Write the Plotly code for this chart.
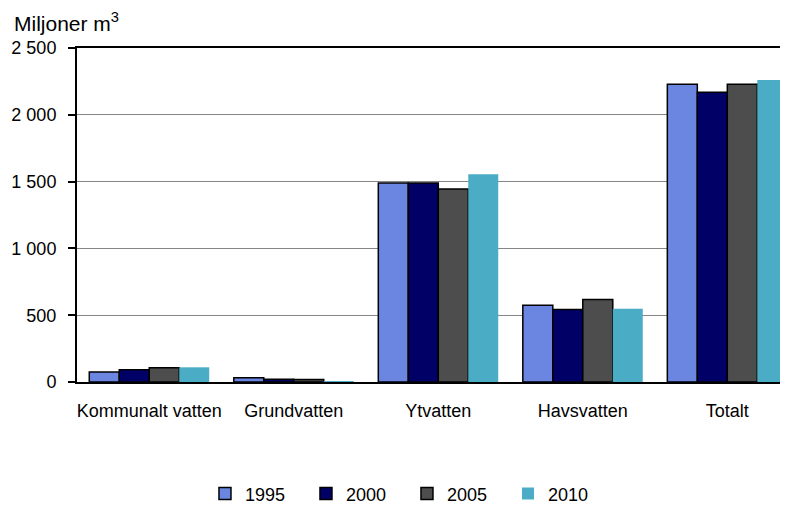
import plotly.graph_objects as go

# Vattenanvändning per källa, miljoner m3
kategorier = ['Kommunalt vatten', 'Grundvatten', 'Ytvatten', 'Havsvatten', 'Totalt']
ar = ['1995', '2000', '2005', '2010']
v1995 = [75, 32, 1490, 575, 2228]
v2000 = [92, 20, 1490, 543, 2168]
v2005 = [107, 18, 1445, 617, 2228]
v2010 = [110, 5, 1555, 548, 2260]
y_ticks = [0, 500, 1000, 1500, 2000, 2500]
y_ticktext = ['0', '500', '1 000', '1 500', '2 000', '2 500']

farger = ['#6A86E0', '#000066', '#4D4D4D', '#4BACC6']
kantbredd = [1.5, 1.5, 1.5, 0]

fig = go.Figure()
for namn, varden, farg, kant in zip(ar, [v1995, v2000, v2005, v2010], farger, kantbredd):
    fig.add_trace(go.Bar(
        x=kategorier, y=varden, name=namn,
        marker=dict(color=farg, line=dict(color='black', width=kant)),
    ))

# sidan har 8px marginal runt diagrammet, därför 780x499
fig.update_layout(
    width=780, height=499,
    barmode='group', bargap=0.17, bargroupgap=0,
    plot_bgcolor='white', paper_bgcolor='white',
    font=dict(family='Liberation Sans, Arial', size=18, color='black'),
    margin=dict(l=69, r=0, t=40, b=125, autoexpand=False),
    showlegend=True,
    legend=dict(orientation='h', x=0.18, xanchor='left', y=-0.335, yanchor='middle',
                entrywidth=56, itemwidth=30, font=dict(size=18)),
    annotations=[dict(text='Miljoner m<sup>3</sup>', x=-65 / 711, y=1 + 26 / 334,
                      xref='x domain', yref='y domain',
                      showarrow=False, xanchor='left', yanchor='middle', font=dict(size=21))],
)

fig.update_xaxes(range=[-0.5, 4.42], showline=True, linecolor='black', linewidth=1.5,
                 mirror=True, ticks='', showgrid=False, ticklabelstandoff=12)
fig.update_yaxes(range=[0, 2500], tickvals=y_ticks, ticktext=y_ticktext,
                 showline=True, linecolor='black', linewidth=2,
                 ticks='outside', ticklen=7, tickcolor='black', tickwidth=1.5,
                 ticklabelstandoff=8,
                 showgrid=True, gridcolor='#868686', gridwidth=1.3, zeroline=False)

fig.write_html('out.html')
